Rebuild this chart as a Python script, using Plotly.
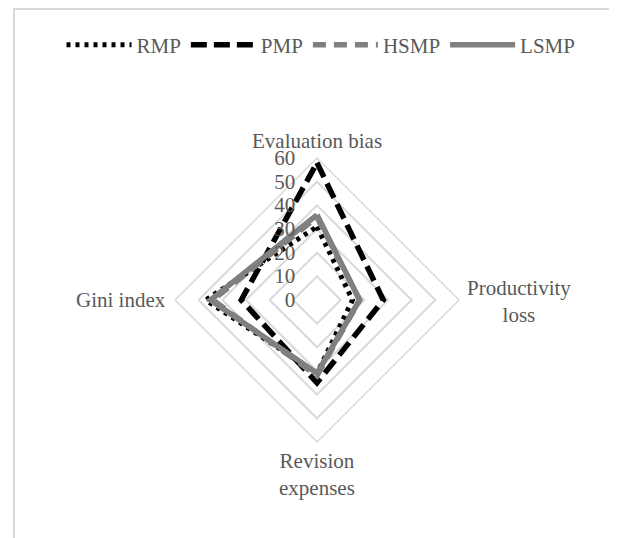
import plotly.graph_objects as go

categories = ["Evaluation bias", "Productivity loss", "Revision expenses", "Gini index"]
category_labels = ["Evaluation bias", "Productivity<br>loss", "Revision<br>expenses", "Gini index"]
rmp = [31, 15, 31, 47]
pmp = [58, 28, 35, 32]
hsmp = [35, 18, 32, 44]
lsmp = [36, 18, 31, 45]
radial_ticks = [0, 10, 20, 30, 40, 50, 60]

# the page has an 8px body margin, so work in figure coordinates offset by 8
OFF = 8
W, H = 617 - OFF, 538 - OFF
FONT = "Liberation Serif"
TXT = "#595959"
GRID = "#d9d9d9"
FS = 21

def closed(v):
    return v + v[:1]

theta = closed(categories)

fig = go.Figure()
fig.add_trace(go.Scatterpolar(r=closed(rmp), theta=theta, name="RMP", mode="lines",
                              line=dict(color="black", width=5, dash="4px,5px")))
fig.add_trace(go.Scatterpolar(r=closed(pmp), theta=theta, name="PMP", mode="lines",
                              line=dict(color="black", width=5.5, dash="16px,7px")))
fig.add_trace(go.Scatterpolar(r=closed(hsmp), theta=theta, name="HSMP", mode="lines",
                              line=dict(color="#808080", width=5.5, dash="13px,8px")))
fig.add_trace(go.Scatterpolar(r=closed(lsmp), theta=theta, name="LSMP", mode="lines",
                              line=dict(color="#808080", width=5.5)))

cx, cy, rad = 317 - OFF, 300 - OFF, 142

def px(x):
    return x / W

def py(y):
    return 1 - y / H

annotations = [
    dict(text=category_labels[0], x=px(cx), y=py(141 - OFF), xanchor="center", yanchor="middle"),
    dict(text=category_labels[1], x=px(519 - OFF), y=py(301 - OFF), xanchor="center", yanchor="middle"),
    dict(text=category_labels[2], x=px(cx), y=py(474 - OFF), xanchor="center", yanchor="middle"),
    dict(text=category_labels[3], x=px(168 - OFF), y=py(cy + OFF - OFF), xanchor="right", yanchor="middle"),
]
for a in annotations:
    a.update(xref="paper", yref="paper", showarrow=False, align="center",
             font=dict(family=FONT, size=FS, color=TXT))

fig.update_layout(
    width=W, height=H,
    margin=dict(l=0, r=0, t=0, b=0),
    paper_bgcolor="white",
    plot_bgcolor="white",
    font=dict(family=FONT, size=FS, color=TXT),
    polar=dict(
        domain=dict(x=[(cx - rad) / W, (cx + rad) / W],
                    y=[(H - cy - rad) / H, (H - cy + rad) / H]),
        gridshape="linear",
        bgcolor="white",
        radialaxis=dict(range=[0, 60], tickvals=radial_ticks, angle=90, tickangle=90,
                        showline=False, gridcolor=GRID, gridwidth=1.5,
                        ticks="outside", ticklen=14, tickcolor="rgba(0,0,0,0)",
                        side="counterclockwise",
                        tickfont=dict(family=FONT, size=FS, color=TXT)),
        angularaxis=dict(rotation=90, direction="clockwise", showgrid=False,
                         linecolor=GRID, linewidth=1.5, ticks="", showticklabels=False),
    ),
    legend=dict(orientation="h", x=px(321 - OFF), xanchor="center", y=py(45 - OFF), yanchor="middle",
                font=dict(family=FONT, size=FS, color=TXT), itemwidth=65,
                tracegroupgap=0, bgcolor="rgba(0,0,0,0)"),
    showlegend=True,
    annotations=annotations,
    shapes=[
        dict(type="line", xref="paper", yref="paper", x0=px(14 - OFF), x1=px(14 - OFF), y0=0, y1=1,
             line=dict(color=GRID, width=2)),
        dict(type="line", xref="paper", yref="paper", x0=px(14 - OFF), x1=1, y0=1 - 1 / H, y1=1 - 1 / H,
             line=dict(color=GRID, width=2)),
    ],
)

fig.write_html("out.html")
